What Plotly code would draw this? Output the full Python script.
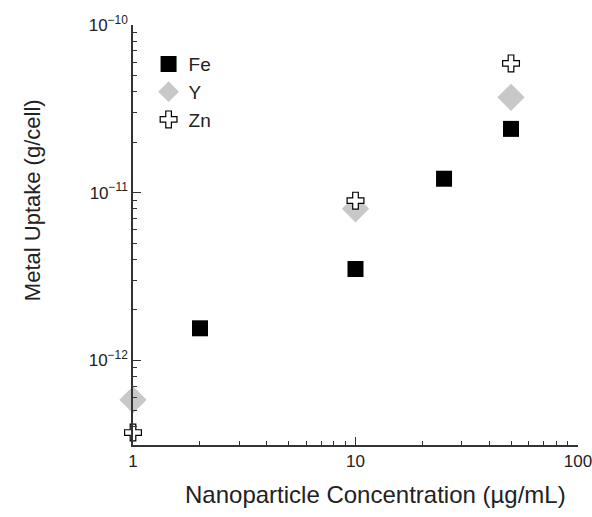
import plotly.graph_objects as go

fe_x = [2, 10, 25, 50]
fe_y = [1.55e-12, 3.5e-12, 1.21e-11, 2.4e-11]
y_x = [1, 10, 50]
y_y = [5.8e-13, 8.0e-12, 3.7e-11]
zn_x = [1, 10, 50]
zn_y = [3.7e-13, 8.95e-12, 5.9e-11]

x_tickvals = [1, 10, 100]
x_ticktext = ["1", "10", "100"]
x_minor = [m * d for d in [1, 10] for m in range(2, 10)]
y_tickvals = [1e-12, 1e-11, 1e-10]
y_ticktext = ["10<sup>−12</sup>", "10<sup>−11</sup>", "10<sup>−10</sup>"]
y_minor = [m * d for d in [1e-13, 1e-12, 1e-11] for m in range(2, 10)]

fig = go.Figure()
fig.add_trace(go.Scatter(x=fe_x, y=fe_y, mode="markers", name="Fe", cliponaxis=False,
                         marker=dict(symbol="square", size=16, color="black")))
fig.add_trace(go.Scatter(x=y_x, y=y_y, mode="markers", name="Y", cliponaxis=False,
                         marker=dict(symbol="diamond", size=21, color="#c8c8c8",
                                     line=dict(width=0))))
fig.add_trace(go.Scatter(x=zn_x, y=zn_y, mode="markers", name="Zn", cliponaxis=False,
                         marker=dict(symbol="cross", size=14, color="white",
                                     line=dict(width=1.2, color="black"))))

font = "Liberation Sans, Arial, sans-serif"
common = dict(type="log", showgrid=False, zeroline=False, automargin=False,
              showline=True, linecolor="#333", linewidth=1.5,
              ticks="inside", ticklen=8, tickwidth=1.2, tickcolor="#333",
              tickfont=dict(size=17), ticklabeloverflow="allow")
fig.update_layout(
    width=592, height=517,
    margin=dict(l=133, r=14, t=25, b=72, autoexpand=False),
    paper_bgcolor="white", plot_bgcolor="white",
    font=dict(family=font, color="#222", size=16),
    showlegend=True,
    legend=dict(x=0.035, y=0.952, xanchor="left", yanchor="top",
                bgcolor="rgba(0,0,0,0)", font=dict(size=19), itemsizing="trace",
                tracegroupgap=0),
    xaxis=dict(**common, range=[0, 2], tickvals=x_tickvals, ticktext=x_ticktext,
               minor=dict(tickmode="array", tickvals=x_minor, ticks="inside",
                          ticklen=4, tickwidth=1, tickcolor="#333", showgrid=False)),
    yaxis=dict(**common, range=[-12.506, -10.0], tickvals=y_tickvals, ticktext=y_ticktext,
               minor=dict(tickmode="array", tickvals=y_minor, ticks="inside",
                          ticklen=4, tickwidth=1, tickcolor="#333", showgrid=False)),
    annotations=[
        dict(text="Nanoparticle Concentration (µg/mL)", xref="paper", yref="paper",
             x=0.546, y=-0.119, xanchor="center", yanchor="middle", showarrow=False,
             font=dict(size=24)),
        dict(text="Metal Uptake (g/cell)", xref="paper", yref="paper",
             x=-0.227, y=0.583, xanchor="center", yanchor="middle", showarrow=False,
             textangle=-90, font=dict(size=22)),
    ],
)
fig.write_html("out.html", config={"displayModeBar": False},
               post_script="document.body.style.margin='0';")
